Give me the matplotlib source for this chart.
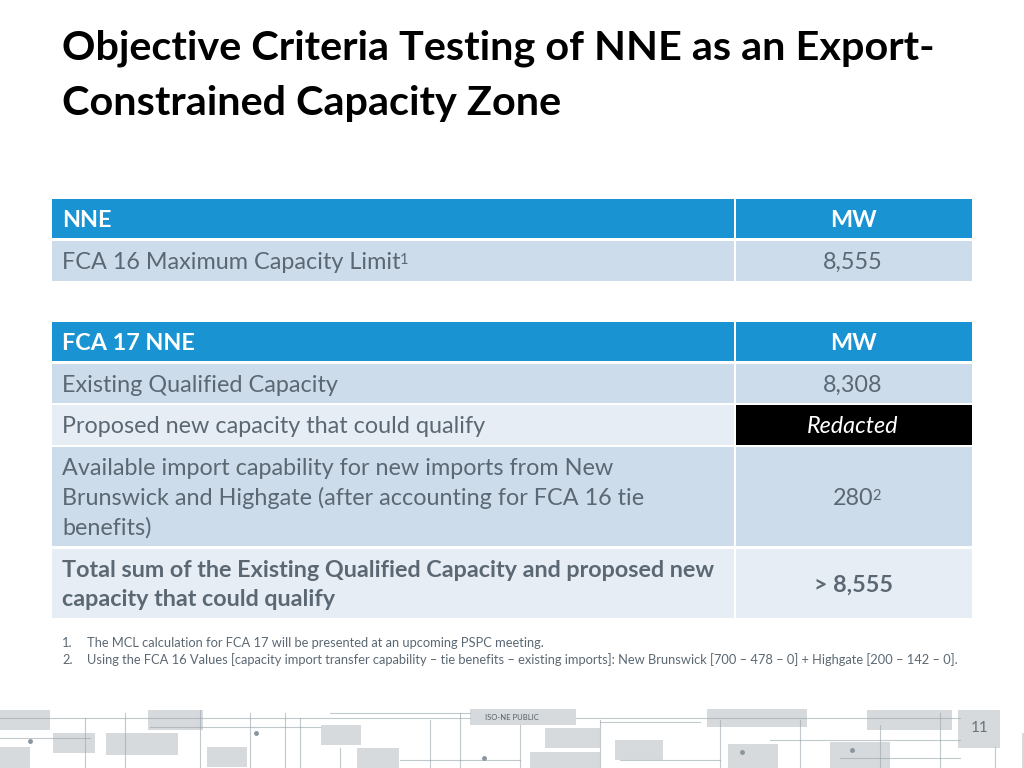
import matplotlib
matplotlib.use("Agg")
import matplotlib.pyplot as plt
from matplotlib.patches import Rectangle

plt.rcParams["font.family"] = ["Lato", "DejaVu Sans"]

# ── slide content ──────────────────────────────────────────────
title_lines = ["Objective Criteria Testing of NNE as an Export-",
               "Constrained Capacity Zone"]

t1_header = ["NNE", "MW"]
t1_labels = ["FCA 16 Maximum Capacity Limit"]
t1_values = ["8,555"]
t1_sup = ["1"]

t2_header = ["FCA 17 NNE", "MW"]
t2_labels = ["Existing Qualified Capacity",
             "Proposed new capacity that could qualify",
             "Available import capability for new imports from New\n"
             "Brunswick and Highgate (after accounting for FCA 16 tie\n"
             "benefits)",
             "Total sum of the Existing Qualified Capacity and proposed new\n"
             "capacity that could qualify"]
t2_values = ["8,308", "Redacted", "280", "> 8,555"]
t2_value_sup = ["", "", "2", ""]

footnotes = ["The MCL calculation for FCA 17 will be presented at an upcoming PSPC meeting.",
             "Using the FCA 16 Values [capacity import transfer capability \u2013 tie benefits \u2013 "
             "existing imports]: New Brunswick [700 \u2013 478 \u2013 0] + Highgate [200 \u2013 142 \u2013 0]."]

page_num = "11"

# ── styling ────────────────────────────────────────────────────
BLUE = "#1a93d2"
ROW_DARK = "#cddcea"
ROW_LIGHT = "#e6edf5"
TXT = "#5b6873"
FS = 16.8
DY = 1.8  # optical nudge: va="center" sits a little high
X0, XS, X1 = 52, 734, 972
XV = (XS + X1) / 2

fig = plt.figure(figsize=(10.24, 7.68), dpi=100)
ax = fig.add_axes([0, 0, 1, 1])
ax.set_xlim(0, 1024)
ax.set_ylim(768, 0)
ax.axis("off")
renderer = fig.canvas.get_renderer()


def sup_after(t, s, color, size):
    bb = t.get_window_extent(renderer)
    x_end = bb.x1
    y_top = 768 - bb.y1
    ax.text(x_end - 1, y_top + 1, s, color=color, fontsize=size, va="top", ha="left")


# title
for i, line in enumerate(title_lines):
    ax.text(62, 48 + i * 55, line, fontsize=29.8, fontweight="bold", color="black",
            va="center", ha="left")


def cell(y0, y1, color, x0, x1):
    ax.add_patch(Rectangle((x0, y0), x1 - x0, y1 - y0, facecolor=color, edgecolor="none"))


def header(y0, y1, labels):
    cell(y0, y1, BLUE, X0, XS)
    cell(y0, y1, BLUE, XS + 2, X1)
    yc = (y0 + y1) / 2 + DY
    ax.text(62, yc, labels[0], color="white", fontsize=FS, fontweight="bold", va="center")
    ax.text(XV, yc, labels[1], color="white", fontsize=FS, fontweight="bold", va="center", ha="center")


# table 1
header(199, 238, t1_header)
y = 241
for lab, val, sp in zip(t1_labels, t1_values, t1_sup):
    cell(y, y + 40, ROW_DARK, X0, XS)
    cell(y, y + 40, ROW_DARK, XS + 2, X1)
    t = ax.text(62, y + 20 + DY, lab, color=TXT, fontsize=FS, va="center")
    sup_after(t, sp, TXT, 10.5)
    ax.text(XV, y + 20 + DY, val, color=TXT, fontsize=FS, va="center", ha="center")

# table 2
header(322, 361, t2_header)
row_spans = [(364, 403), (405, 445), (447, 546), (549, 618)]
row_colors = [ROW_DARK, ROW_LIGHT, ROW_DARK, ROW_LIGHT]
for i, ((y0, y1), lab, val, vs, rc) in enumerate(zip(row_spans, t2_labels, t2_values,
                                                     t2_value_sup, row_colors)):
    bold = lab.startswith("Total")
    cell(y0, y1, rc, X0, XS)
    yc = (y0 + y1) / 2 + DY
    if val == "Redacted":
        cell(y0, y1, "black", XS + 2, X1)
        ax.text(XV, yc, val, color="white", fontsize=FS, style="italic", va="center", ha="center")
    else:
        cell(y0, y1, rc, XS + 2, X1)
        t = ax.text(XV, yc, val, color=TXT, fontsize=FS, va="center", ha="center",
                    fontweight="bold" if bold else "normal")
        if vs:
            sup_after(t, vs, TXT, 10.5)
    ax.text(62, yc, lab, color=TXT, fontsize=FS, va="center", ha="left", linespacing=1.47,
            fontweight="bold" if bold else "normal")

# footnotes
for i, fn in enumerate(footnotes):
    yy = 643 + i * 17
    ax.text(62, yy, f"{i + 1}.", color=TXT, fontsize=9.3, va="center")
    ax.text(87, yy, fn, color=TXT, fontsize=9.3, va="center")

# bottom circuit-style decoration
GREY = "#d6dadd"
LINE = "#9aa5ad"
boxes = [(0, 710, 50, 20), (148, 710, 55, 20), (53, 733, 42, 20), (106, 733, 72, 22),
         (0, 747, 30, 21), (207, 747, 40, 20), (321, 725, 40, 20), (357, 748, 42, 20),
         (545, 728, 55, 20), (530, 752, 70, 16), (615, 740, 48, 20), (707, 709, 100, 18),
         (728, 744, 50, 24), (830, 742, 60, 26), (867, 710, 85, 20), (1022, 733, 2, 35)]
for bx, by, bw, bh in boxes:
    ax.add_patch(Rectangle((bx, by), bw, bh, facecolor=GREY, edgecolor="none"))
hlines = [(0, 470, 718), (0, 90, 738), (150, 320, 727), (330, 470, 713),
          (576, 960, 718), (600, 700, 722), (770, 960, 740), (400, 520, 760),
          (620, 720, 760), (840, 960, 758)]
for xa, xb, yy in hlines:
    ax.plot([xa, xb], [yy, yy], color=LINE, lw=0.8, alpha=0.6)
vlines = [(85, 718, 768), (125, 713, 768), (200, 710, 768), (250, 713, 768),
          (285, 713, 768), (300, 718, 768), (340, 748, 768), (430, 720, 768),
          (460, 713, 768), (520, 725, 768), (600, 720, 768), (720, 720, 768),
          (800, 720, 768), (880, 725, 768), (940, 713, 768), (995, 747, 768)]
for xx, ya, yb in vlines:
    ax.plot([xx, xx], [ya, yb], color=LINE, lw=0.8, alpha=0.6)
for dx, dy in [(30, 741), (256, 733), (484, 758), (742, 752), (852, 750)]:
    ax.plot(dx, dy, "o", color="#8a959d", ms=2.5)

ax.add_patch(Rectangle((470, 709), 106, 16, facecolor=GREY, edgecolor="none"))
ax.text(512, 717.5, "ISO-NE PUBLIC", fontsize=5.5, color="#555f66", ha="center", va="center")
ax.add_patch(Rectangle((958, 710), 42, 38, facecolor=GREY, edgecolor="none"))
ax.text(980, 728, page_num, fontsize=11, color="#6a747b", ha="center", va="center")

fig.savefig("out.png", dpi=100)
